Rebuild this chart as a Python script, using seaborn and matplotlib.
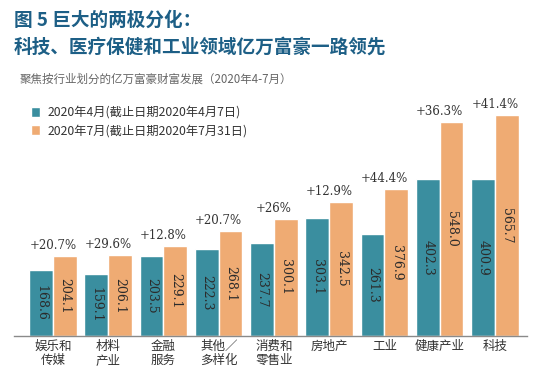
import matplotlib
matplotlib.use('Agg')
import matplotlib.pyplot as plt
import pandas as pd
import seaborn as sns
from matplotlib.patches import Patch

categories = ['娱乐和\n传媒', '材料\n产业', '金融\n服务', '其他／\n多样化', '消费和\n零售业',
              '房地产', '工业', '健康产业', '科技']
april = [168.6, 159.1, 203.5, 222.3, 237.7, 303.1, 261.3, 402.3, 400.9]
july = [204.1, 206.1, 229.1, 268.1, 300.1, 342.5, 376.9, 548.0, 565.7]
growth = ['+20.7%', '+29.6%', '+12.8%', '+20.7%', '+26%', '+12.9%', '+44.4%',
          '+36.3%', '+41.4%']
series = ['2020年4月(截止日期2020年4月7日)', '2020年7月(截止日期2020年7月31日)']

teal = '#3a8e9f'
orange = '#efab73'
title_color = '#1d5f86'
text_color = '#333333'

df = pd.DataFrame({
    'cat': categories * 2,
    'val': april + july,
    'series': [series[0]] * len(april) + [series[1]] * len(july),
})

sns.set_style('white')
plt.rcParams['font.family'] = ['Noto Sans CJK SC', 'DejaVu Sans']

fig = plt.figure(figsize=(5.34, 3.74), dpi=100)
ax = fig.add_axes([14 / 534, 38 / 374, 513 / 534, 236 / 374])

sns.barplot(data=df, x='cat', y='val', hue='series', palette=[teal, orange],
            saturation=1, width=0.86, edgecolor='white', linewidth=1,
            legend=False, ax=ax)

ax.set_ylim(0, 604)
ax.set_xlim(-0.706, 8.58)
ax.set_xlabel('')
ax.set_ylabel('')
ax.set_yticks([])
for s in ['top', 'right', 'left']:
    ax.spines[s].set_visible(False)
ax.spines['bottom'].set_color('#8a8a8a')
ax.spines['bottom'].set_linewidth(1)
ax.tick_params(axis='x', length=0, pad=3, labelsize=9, labelcolor=text_color)
for lbl in ax.get_xticklabels():
    lbl.set_linespacing(1.05)

# values inside bars
for cont in ax.containers:
    for bar in cont:
        h = bar.get_height()
        ax.text(bar.get_x() + bar.get_width() / 2, h / 2, f'{h:.1f}',
                rotation=270, ha='center', va='center', fontsize=9,
                family='DejaVu Serif', color='#2b2b2b')

# growth above each group
for bar, g in zip(ax.containers[1], growth):
    ax.annotate(g, (bar.get_x(), bar.get_height()), xytext=(0, 3),
                textcoords='offset points', ha='center', va='bottom',
                fontsize=8.5, family='DejaVu Serif', color=text_color)

handles = [Patch(facecolor=teal, label=series[0]),
           Patch(facecolor=orange, label=series[1])]
fig.legend(handles=handles, loc='upper left',
           bbox_to_anchor=(20 / 534, 1 - 95 / 374), frameon=False,
           fontsize=8.8, handlelength=0.75, handleheight=0.9,
           handletextpad=0.6, labelspacing=0.45, labelcolor=text_color)

fig.text(14 / 534, 1 - 20 / 374, '图 5 巨大的两极分化：', fontsize=13.4,
         fontweight='bold', color=title_color, va='center')
fig.text(14 / 534, 1 - 47 / 374, '科技、医疗保健和工业领域亿万富豪一路领先',
         fontsize=13.4, fontweight='bold', color=title_color, va='center')
fig.text(20 / 534, 1 - 79 / 374, '聚焦按行业划分的亿万富豪财富发展（2020年4-7月）',
         fontsize=8.3, color='#666666', va='center')

fig.savefig('out.png', dpi=100)
